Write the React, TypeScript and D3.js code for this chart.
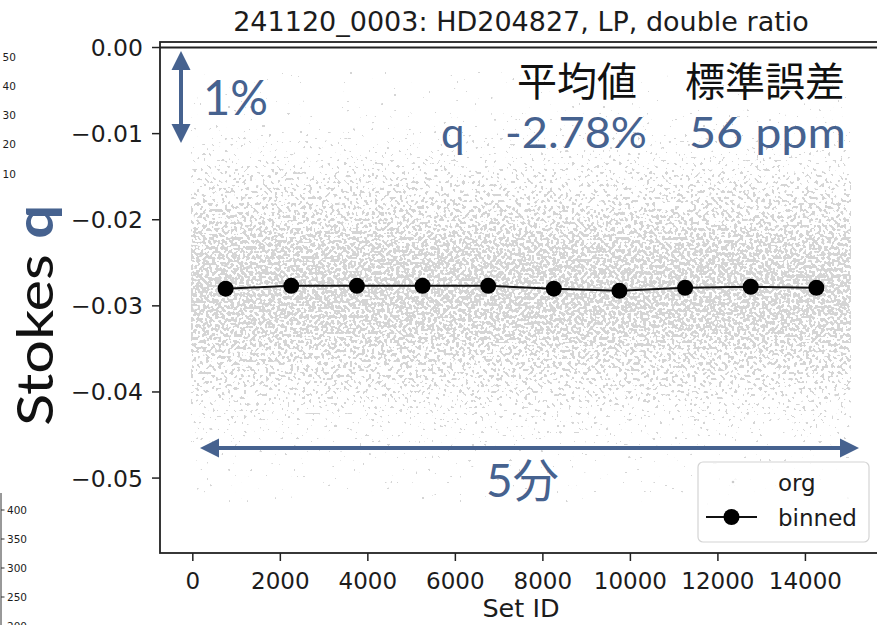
import React from 'react';
import * as d3 from 'd3';

const W = 877;
const H = 625;

// ---- data ----
const binCenters = [750, 2250, 3750, 5250, 6750, 8250, 9750, 11250, 12750, 14250];
const binnedQ = [-0.0280, -0.02767, -0.02767, -0.02767, -0.02767, -0.0280, -0.02825, -0.0279, -0.02778, -0.0279];
// raw ("org") points summarised: set range, centre and spread read from the cloud
const orgSetRange = [0, 14999];
const orgMean = -0.0278;
const orgStd = 0.0064;

const xTicks = [0, 2000, 4000, 6000, 8000, 10000, 12000, 14000];
const yTicks = [0, -0.01, -0.02, -0.03, -0.04, -0.05];
const xDomain = [-750, 15750];
const yDomain = [-0.0587, 0.00064];

const titleText = '241120_0003: HD204827, LP, double ratio';
const xLabel = 'Set ID';
const yLabelParts = ['Stokes ', 'q'];
const headerLabels = ['平均値', '標準誤差'];
const statLabels = ['q', '-2.78%', '56 ppm'];
const arrowLabels = ['1%', '5分'];
const legendLabels = ['org', 'binned'];
// fragments of neighbouring charts visible at the left edge
const fragTopTicks = [50, 40, 30, 20, 10];
const fragBottomTicks = [400, 350, 300, 250, 200];

const BLUE = '#46628f';
const INK = '#1c1c1c';
const MPL = "'DejaVu Sans', sans-serif";
const ANN = "Lato, 'Noto Sans CJK JP', sans-serif";

export default function App() {
  const L = 160, R = 882, T = 42, B = 553;
  const x = d3.scaleLinear().domain(xDomain).range([L, R]);
  const y = d3.scaleLinear().domain(yDomain).range([B, T]);

  // density band for the raw points -> gradient of threshold values
  // (coverage -> noise threshold, approximate inverse of the texture's value distribution)
  const coverToThreshold = d3
    .scaleLinear()
    .domain([0, 0.001, 0.03, 0.12, 0.3, 0.6, 0.9, 1])
    .range([0, 0.262, 0.292, 0.34, 0.41, 0.47, 0.56, 0.75])
    .clamp(true);
  const nStops = 160;
  const K = 1.8;
  const stops = d3.range(nStops + 1).map((i) => {
    const py = T + ((B - T) * i) / nStops;
    const v = y.invert(py);
    const d = Math.exp(-((v - orgMean) ** 2) / (2 * orgStd * orgStd));
    const c = 1 - Math.exp(-K * d);
    return { off: i / nStops, a: coverToThreshold(c) };
  });

  const line = d3
    .line<number>()
    .x((_, i) => x(binCenters[i]))
    .y((d) => y(d));

  const fragTop = d3.scaleLinear().domain([10, 50]).range([174, 57]);
  const fragBot = d3.scaleLinear().domain([250, 400]).range([597, 510]);

  // arrow geometry (layout)
  const vx = 181, vy1 = 51, vy2 = 143;
  const hy = 448, hx1 = 200, hx2 = 859;
  const hl = 19, hw = 9.5, sw = 2;
  const vArrow = `M${vx},${vy1} L${vx + hw},${vy1 + hl} L${vx + sw},${vy1 + hl} L${vx + sw},${vy2 - hl} L${vx + hw},${vy2 - hl} L${vx},${vy2} L${vx - hw},${vy2 - hl} L${vx - sw},${vy2 - hl} L${vx - sw},${vy1 + hl} L${vx - hw},${vy1 + hl} Z`;
  const hArrow = `M${hx1},${hy} L${hx1 + hl},${hy - hw} L${hx1 + hl},${hy - sw} L${hx2 - hl},${hy - sw} L${hx2 - hl},${hy - hw} L${hx2},${hy} L${hx2 - hl},${hy + hw} L${hx2 - hl},${hy + sw} L${hx1 + hl},${hy + sw} L${hx1 + hl},${hy + hw} Z`;

  const fmtY = (t: number) => (t === 0 ? '0.00' : '\u2212' + Math.abs(t).toFixed(2));

  return (
    <svg
      width={W}
      height={H}
      viewBox={`0 0 ${W} ${H}`}
      style={{ position: 'absolute', left: 0, top: 0, background: '#fff' }}
    >
      <defs>
        <linearGradient id="orgGrad" gradientUnits="userSpaceOnUse" x1={0} y1={T} x2={0} y2={B}>
          {stops.map((st, i) => (
            <stop key={i} offset={st.off} stopColor="#000" stopOpacity={st.a} />
          ))}
        </linearGradient>
        <filter
          id="speckle"
          filterUnits="userSpaceOnUse"
          x={L}
          y={T}
          width={R - L}
          height={B - T}
          colorInterpolationFilters="sRGB"
        >
          <feTurbulence type="fractalNoise" baseFrequency="0.32" numOctaves={1} seed={7} result="noise" />
          <feColorMatrix
            in="noise"
            type="matrix"
            values="0 0 0 0 0  0 0 0 0 0  0 0 0 0 0  1 0 0 0 0"
            result="nA"
          />
          <feColorMatrix
            in="SourceGraphic"
            type="matrix"
            values="0 0 0 0 0  0 0 0 0 0  0 0 0 0 0  0 0 0 1 0"
            result="sA"
          />
          <feComposite in="sA" in2="nA" operator="arithmetic" k1={0} k2={60} k3={-60} k4={0} result="mask" />
          <feFlood floodColor="#d5d5d5" result="col" />
          <feComposite in="col" in2="mask" operator="in" />
        </filter>
        <clipPath id="plotClip">
          <rect x={L} y={T} width={R - L} height={B - T} />
        </clipPath>
      </defs>

      <rect x={0} y={0} width={W} height={H} fill="#fff" />

      {/* fragments of neighbouring charts */}
      <g fontFamily={MPL} fontSize={10.5} fill={INK}>
        {fragTopTicks.map((t) => (
          <text key={t} x={2.5} y={fragTop(t)} dy="0.35em">
            {t}
          </text>
        ))}
        <line x1={1} x2={1} y1={493} y2={H} stroke="#333" strokeWidth={1} />
        {fragBottomTicks.map((t) => (
          <g key={t}>
            <line x1={1} x2={4.5} y1={fragBot(t)} y2={fragBot(t)} stroke="#333" strokeWidth={1} />
            <text x={7} y={fragBot(t)} dy="0.35em">
              {t}
            </text>
          </g>
        ))}
      </g>

      {/* raw points cloud */}
      <g clipPath="url(#plotClip)">
        <rect
          x={x(orgSetRange[0]) - 2}
          y={T}
          width={x(orgSetRange[1]) - x(orgSetRange[0]) + 4}
          height={B - T}
          fill="url(#orgGrad)"
          filter="url(#speckle)"
        />
      </g>

      {/* binned */}
      <path d={line(binnedQ) || ''} fill="none" stroke="#111" strokeWidth={2} />
      {binnedQ.map((v, i) => (
        <circle key={i} cx={x(binCenters[i])} cy={y(v)} r={8} fill="#000" />
      ))}

      {/* spines */}
      <rect x={L} y={T} width={R - L} height={B - T} fill="none" stroke="#222" strokeWidth={1.8} />
      <line x1={L} x2={R} y1={y(0)} y2={y(0)} stroke="#222" strokeWidth={1.8} />

      {/* axes */}
      <g fontFamily={MPL} fontSize={23.5} fill={INK}>
        {yTicks.map((t) => (
          <g key={t}>
            <line x1={L - 8} x2={L} y1={y(t)} y2={y(t)} stroke="#222" strokeWidth={1.5} />
            <text x={L - 17} y={y(t)} dy="0.36em" textAnchor="end">
              {fmtY(t)}
            </text>
          </g>
        ))}
        {xTicks.map((t) => (
          <g key={t}>
            <line x1={x(t)} x2={x(t)} y1={B} y2={B + 8} stroke="#222" strokeWidth={1.5} />
            <text x={x(t)} y={589} textAnchor="middle" fontSize={23}>
              {t}
            </text>
          </g>
        ))}
        <text x={(L + R) / 2} y={617} textAnchor="middle" fontSize={25.5}>
          {xLabel}
        </text>
        <text x={(L + R) / 2} y={31} textAnchor="middle" fontSize={27}>
          {titleText}
        </text>
      </g>

      {/* y label */}
      <text
        transform="translate(53,426) rotate(-90)"
        fontFamily={ANN}
        fontSize={51}
        textLength={221}
        lengthAdjust="spacingAndGlyphs"
        fill="#111"
      >
        <tspan>{yLabelParts[0]}</tspan>
        <tspan fill={BLUE} fontWeight="bold">{yLabelParts[1]}</tspan>
      </text>

      {/* annotations */}
      <path d={vArrow} fill={BLUE} />
      <path d={hArrow} fill={BLUE} />
      <text x={203} y={115} fontFamily={ANN} fontSize={48} fill={BLUE} textLength={65} lengthAdjust="spacingAndGlyphs">
        {arrowLabels[0]}
      </text>
      <text x={486} y={497} fontFamily={ANN} fontSize={46} fill={BLUE}>
        {arrowLabels[1]}
      </text>

      <g fontFamily="'Noto Sans CJK JP', sans-serif" fontSize={40} fill="#111">
        <text x={517} y={96}>{headerLabels[0]}</text>
        <text x={685} y={96}>{headerLabels[1]}</text>
      </g>
      <g fontFamily={ANN} fontSize={42} fill={BLUE}>
        <text x={441} y={148}>{statLabels[0]}</text>
        <text x={505} y={148} textLength={142} lengthAdjust="spacingAndGlyphs">
          {statLabels[1]}
        </text>
        <text x={689} y={148} textLength={157} lengthAdjust="spacingAndGlyphs">
          {statLabels[2]}
        </text>
      </g>

      {/* legend */}
      <g>
        <rect x={698} y={462} width={171} height={80} rx={5} fill="#fff" fillOpacity={0.8} stroke="#d4d4d4" strokeWidth={1.2} />
        <circle cx={733} cy={482} r={1.3} fill="#cbcbcb" />
        <line x1={706} x2={757} y1={517} y2={517} stroke="#111" strokeWidth={2} />
        <circle cx={731.5} cy={517} r={8} fill="#000" />
        <g fontFamily={MPL} fontSize={23} fill={INK}>
          <text x={778} y={491}>{legendLabels[0]}</text>
          <text x={778} y={526}>{legendLabels[1]}</text>
        </g>
      </g>
    </svg>
  );
}
